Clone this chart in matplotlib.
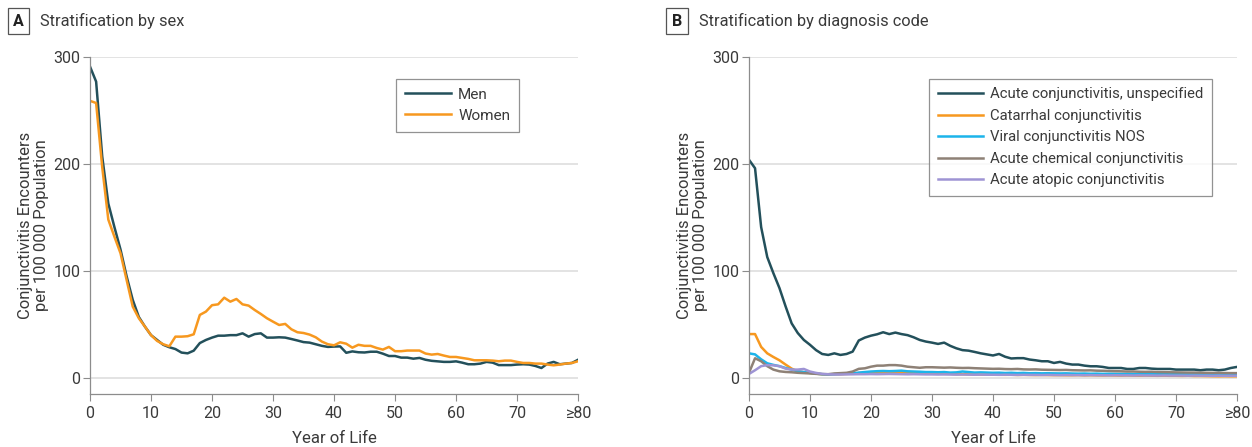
import numpy as np
import matplotlib.pyplot as plt

# ages 0..80 (80 = ">=80")
ages = np.arange(81)
xtick_pos = [0, 10, 20, 30, 40, 50, 60, 70, 80]
xtick_labels = ["0", "10", "20", "30", "40", "50", "60", "70", "≥80"]

# panel A: by sex
men = [291, 277, 207, 163, 141, 120, 95, 73, 57, 48,
       40, 35.5, 31, 28.7, 27, 23.7, 23, 25.5, 32.6, 35.5,
       37.7, 39.5, 39.5, 40, 40, 41.7, 38.6, 41, 41.7, 37.7,
       37.7, 38, 37.7, 36.4, 35, 33.5, 33, 31.5, 30, 29,
       29.3, 29.5, 23.5, 24.8, 24, 23.8, 24.5, 24.5, 22.7, 20.5,
       20.5, 19, 19, 18, 18.7, 17, 16, 15.5, 15, 15,
       15.5, 14.3, 12.8, 12.8, 13.4, 15, 14.3, 12, 12, 12,
       12.5, 12.8, 12.5, 11.2, 9.3, 13.4, 15, 12.8, 13.4, 14, 17]
women = [259, 257, 197, 148, 132, 116.5, 91.6, 66.7, 55.8, 48,
         40, 34.6, 31.5, 29.6, 38.6, 38.6, 39, 40.8, 58.9, 62,
         68, 68.8, 75, 71.3, 73.8, 68.8, 67.6, 63.5, 59.8, 55.8,
         52.6, 49.5, 50.5, 45.5, 42.7, 42, 40.5, 38, 34, 31.5,
         30.5, 33.3, 32, 28.3, 31, 30, 30, 28, 26.5, 29,
         25, 25, 25.6, 25.6, 25.6, 22.8, 21.8, 22.4, 20.9, 19.6,
         19.6, 18.7, 17.8, 16.5, 16.5, 16.5, 16.2, 15.6, 16.2, 16.2,
         15, 14, 14, 13.4, 13.4, 12.5, 11.8, 12.5, 13.4, 14, 15.6]

# panel B: by diagnosis code
acute_unspec = [204, 196, 141, 113, 98, 84, 67, 51, 42, 35.5,
                31, 26, 22.4, 21.5, 23, 21.5, 22.4, 24.6, 35, 37.7,
                39.5, 40.8, 42.7, 41, 42.4, 41, 40, 38, 35.5, 34,
                33, 31.8, 33, 30, 27.7, 26, 25.5, 24.3, 23, 22,
                21, 22.4, 19.8, 18.2, 18.5, 18.5, 17.2, 16.5, 15.6, 15.6,
                14, 15, 13.4, 12.5, 12.5, 11.5, 10.9, 10.9, 10.3, 9.3,
                9.3, 9.3, 8.4, 8.4, 9.3, 9.3, 8.7, 8.4, 8.4, 8.4,
                7.8, 7.8, 7.8, 7.8, 7.2, 7.8, 7.8, 7.2, 7.8, 9.3, 10.3]
catarrhal = [41, 41, 29, 23, 19.6, 16.5, 12.5, 8.7, 6.2, 5.3,
             4.7, 4, 3.4, 3.2, 3.5, 3.5, 3.8, 4, 4.5, 4.8,
             5, 5, 5.2, 5.5, 5.5, 5.3, 5, 4.8, 4.5, 4.3,
             4, 4, 3.8, 3.8, 3.5, 3.5, 3.4, 3.3, 3.2, 3.2,
             3, 3, 2.9, 3, 2.8, 2.9, 2.8, 2.7, 2.8, 2.7,
             2.6, 2.6, 2.5, 2.5, 2.6, 2.4, 2.5, 2.4, 2.3, 2.4,
             2.3, 2.2, 2.3, 2.2, 2.1, 2.2, 2.1, 2, 2.1, 2,
             2, 1.9, 2, 1.8, 1.8, 1.7, 1.6, 1.5, 1.6, 1.5, 1.5]
viral = [23, 22, 17.4, 13.7, 12.2, 11, 9.3, 7.8, 6.2, 5.5,
         4.7, 4, 3.5, 3.3, 3.5, 3.8, 4, 4.2, 5, 5.5,
         6, 6.3, 6.5, 6.3, 6.5, 6.8, 6.2, 6, 5.8, 5.5,
         5.5, 5.3, 5.5, 5, 5.2, 6, 5.5, 5, 5.2, 5,
         4.8, 4.9, 4.6, 4.8, 4.5, 4.7, 4.4, 4.5, 4.3, 4.4,
         4.3, 4.2, 4.3, 4.1, 4, 4.1, 3.9, 4, 3.8, 3.9,
         3.8, 3.7, 3.8, 3.6, 3.7, 3.6, 3.5, 3.6, 3.5, 3.4,
         3.5, 3.4, 3.3, 3.4, 3.3, 3.2, 3.3, 3.2, 3.1, 3.2, 3.3]
chemical = [4.7, 18.4, 15.6, 11, 7.8, 6.2, 5.6, 5.3, 4.8, 4.5,
            4.2, 3.8, 3.6, 3.5, 4.2, 4.5, 4.8, 6, 8.5, 9,
            10.5, 11.5, 11.5, 12, 12, 11.5, 10.5, 10, 9.5, 10,
            10, 9.8, 9.6, 9.8, 9.5, 9.3, 9.4, 9.1, 8.9, 8.7,
            8.5, 8.6, 8.3, 8.2, 8.4, 8, 7.9, 8, 7.7, 7.6,
            7.5, 7.4, 7.5, 7.2, 7.1, 7, 7.1, 6.8, 6.7, 6.5,
            6.3, 6.2, 6, 6, 5.8, 5.7, 5.8, 5.5, 5.4, 5.3,
            5.2, 5.1, 5, 5, 4.9, 4.8, 4.7, 4.8, 4.6, 4.5, 4.5]
atopic = [3.7, 7.2, 11, 12, 11.8, 11, 8.7, 7.8, 7.8, 8.4,
          6, 4.7, 3.8, 3.4, 3.2, 3.2, 3.3, 3.4, 3.5, 3.5,
          3.6, 3.5, 3.6, 3.7, 3.6, 3.5, 3.4, 3.5, 3.4, 3.3,
          3.3, 3.2, 3.3, 3.2, 3.1, 3.2, 3.1, 3, 3.1, 3,
          3, 2.9, 3, 2.9, 2.8, 2.9, 2.8, 2.8, 2.7, 2.8,
          2.7, 2.6, 2.7, 2.6, 2.6, 2.5, 2.6, 2.5, 2.5, 2.4,
          2.5, 2.4, 2.4, 2.3, 2.4, 2.3, 2.3, 2.2, 2.3, 2.2,
          2.2, 2.2, 2.1, 2.2, 2.1, 2.1, 2, 2.1, 2, 2, 2]

plt.rcParams['font.family'] = ['Roboto', 'DejaVu Sans']
text_col = '#3a3a3a'
spine_col = '#8c8c8c'

fig = plt.figure(figsize=(12.52, 4.47), dpi=100)
axA = fig.add_axes([0.0719, 0.1186, 0.3898, 0.7539])
axB = fig.add_axes([0.5982, 0.1186, 0.3898, 0.7539])

def style_axis(ax):
    ax.set_xlim(0, 80)
    ax.set_ylim(-15, 300)
    ax.set_yticks([0, 100, 200, 300])
    ax.set_xticks(xtick_pos)
    ax.set_xticklabels(xtick_labels)
    ax.tick_params(labelsize=11.5, colors=spine_col, labelcolor=text_col, length=5, width=0.8)
    ax.tick_params(axis='y', pad=2)
    for s in ['top', 'right']:
        ax.spines[s].set_visible(False)
    for s in ['left', 'bottom']:
        ax.spines[s].set_color(spine_col)
        ax.spines[s].set_linewidth(0.9)
    ax.grid(axis='y', color='#dedede', linewidth=1.2)
    ax.set_axisbelow(True)
    ax.set_xlabel("Year of Life", fontsize=12, color=text_col, labelpad=7)
    ax.set_ylabel("Conjunctivitis Encounters\nper 100 000 Population", fontsize=12,
                  color=text_col, labelpad=3, linespacing=1.05)

# panel A
axA.plot(ages, men, color='#23505b', lw=1.8, label='Men')
axA.plot(ages, women, color='#f7981f', lw=1.8, label='Women')
style_axis(axA)
legA = axA.legend(loc='upper left', bbox_to_anchor=(0.626, 0.936), fontsize=11,
                  frameon=True, fancybox=False, edgecolor='#777777', handlelength=3.0,
                  handletextpad=0.5, borderpad=0.6, labelspacing=0.45, borderaxespad=0)
legA.get_frame().set_linewidth(0.9)
for t in legA.get_texts():
    t.set_color(text_col)

# panel B
axB.plot(ages, acute_unspec, color='#23505b', lw=1.8, label='Acute conjunctivitis, unspecified')
axB.plot(ages, catarrhal, color='#f7981f', lw=1.8, label='Catarrhal conjunctivitis')
axB.plot(ages, viral, color='#1cb4ea', lw=1.8, label='Viral conjunctivitis NOS')
axB.plot(ages, chemical, color='#8e8176', lw=1.8, label='Acute chemical conjunctivitis')
axB.plot(ages, atopic, color='#9e94d4', lw=1.8, label='Acute atopic conjunctivitis')
style_axis(axB)
legB = axB.legend(loc='upper left', bbox_to_anchor=(0.369, 0.936), fontsize=10.7,
                  frameon=True, fancybox=False, edgecolor='#777777', handlelength=3.0,
                  handletextpad=0.5, borderpad=0.6, labelspacing=0.5, borderaxespad=0)
legB.get_frame().set_linewidth(0.9)
for t in legB.get_texts():
    t.set_color(text_col)

# panel titles
box = dict(boxstyle='square,pad=0.35', facecolor='white', edgecolor='#555555', linewidth=0.9)
fig.text(18.5 / 1252, 1 - 21 / 447, "A", fontsize=11.5, fontweight='bold', color='#222222',
         ha='center', va='center', bbox=box)
fig.text(40 / 1252, 1 - 21 / 447, "Stratification by sex", fontsize=11.8, color=text_col,
         ha='left', va='center')
fig.text(677 / 1252, 1 - 21 / 447, "B", fontsize=11.5, fontweight='bold', color='#222222',
         ha='center', va='center', bbox=box)
fig.text(699 / 1252, 1 - 21 / 447, "Stratification by diagnosis code", fontsize=11.8,
         color=text_col, ha='left', va='center')

plt.savefig("out.png", dpi=100)
